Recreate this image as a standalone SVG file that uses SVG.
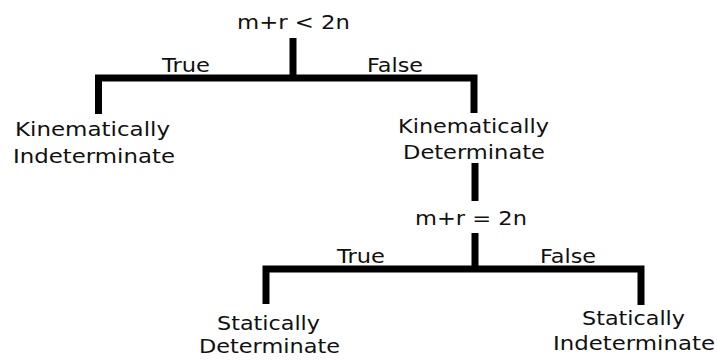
<svg xmlns="http://www.w3.org/2000/svg" width="717" height="360" viewBox="0 0 717 360">
<style>
text{font-family:"DejaVu Sans","Verdana",sans-serif;font-size:19px;fill:#111;text-anchor:middle}
.ln{fill:none;stroke:#000;stroke-width:7;stroke-linejoin:miter;stroke-linecap:butt}
</style>
<rect width="717" height="360" fill="#fff"/>
<g id="connectors">
<path class="ln" d="M293 38V78"/>
<path class="ln" d="M98.5 114V78H474V113"/>
<path class="ln" d="M475 163V201"/>
<path class="ln" d="M475 233V269"/>
<path class="ln" d="M266 304V269H641V305"/>
</g>
<g id="cond1"><text x="293.5" y="29" textLength="113" lengthAdjust="spacingAndGlyphs">m+r &lt; 2n</text></g>
<g id="label-true1"><text x="186" y="72" textLength="48" lengthAdjust="spacingAndGlyphs">True</text></g>
<g id="label-false1"><text x="395" y="72" textLength="56" lengthAdjust="spacingAndGlyphs">False</text></g>
<g id="kin-indet">
<text x="92.5" y="136" textLength="155" lengthAdjust="spacingAndGlyphs">Kinematically</text>
<text x="94" y="163" textLength="162" lengthAdjust="spacingAndGlyphs">Indeterminate</text>
</g>
<g id="kin-det">
<text x="473.5" y="133" textLength="151" lengthAdjust="spacingAndGlyphs">Kinematically</text>
<text x="474" y="159" textLength="142" lengthAdjust="spacingAndGlyphs">Determinate</text>
</g>
<g id="cond2"><text x="471" y="225" textLength="112" lengthAdjust="spacingAndGlyphs">m+r = 2n</text></g>
<g id="label-true2"><text x="361" y="263" textLength="48" lengthAdjust="spacingAndGlyphs">True</text></g>
<g id="label-false2"><text x="568" y="263" textLength="56" lengthAdjust="spacingAndGlyphs">False</text></g>
<g id="stat-det">
<text x="268.5" y="330" textLength="103" lengthAdjust="spacingAndGlyphs">Statically</text>
<text x="269.5" y="353" textLength="141" lengthAdjust="spacingAndGlyphs">Determinate</text>
</g>
<g id="stat-indet">
<text x="633.5" y="325" textLength="103" lengthAdjust="spacingAndGlyphs">Statically</text>
<text x="634" y="350" textLength="162" lengthAdjust="spacingAndGlyphs">Indeterminate</text>
</g>
</svg>
